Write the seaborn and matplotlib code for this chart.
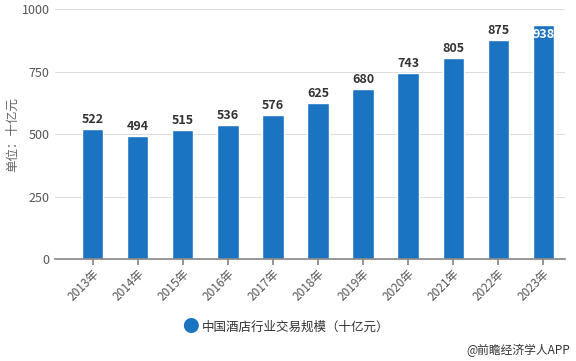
import matplotlib
matplotlib.use("Agg")
import matplotlib.pyplot as plt
import seaborn as sns
import pandas as pd

years = ["2013年", "2014年", "2015年", "2016年", "2017年", "2018年", "2019年", "2020年", "2021年", "2022年", "2023年"]
values = [522, 494, 515, 536, 576, 625, 680, 743, 805, 875, 938]
series_name = "中国酒店行业交易规模（十亿元）"
y_ticks = [0, 250, 500, 750, 1000]

sns.set_theme(style="white")
plt.rcParams['font.family'] = ['Noto Sans CJK SC', 'DejaVu Sans']

df = pd.DataFrame({"year": years, "value": values})
bar_color = "#1b74c1"

fig = plt.figure(figsize=(5.76, 3.61), dpi=100)
ax = fig.add_axes([0.0955, 0.2825, 0.885, 0.6925])
sns.barplot(data=df, x="year", y="value", color=bar_color, width=0.47, ax=ax, saturation=1)

ax.set_ylim(0, 1000)
ax.set_xlim(-0.84, 10.48)
ax.set_yticks(y_ticks)
ax.set_yticklabels([str(t) for t in y_ticks], fontsize=9, color="#555555")
ax.yaxis.grid(True, color="#dddddd", linewidth=0.8)
ax.set_axisbelow(True)
for s in ["top", "right", "left"]:
    ax.spines[s].set_visible(False)
ax.spines["bottom"].set_color("#888888")
ax.tick_params(axis="y", length=0, pad=4)
ax.tick_params(axis="x", length=4, color="#888888", pad=2, bottom=True)
ax.set_xticks(range(len(years)))
ax.set_xticklabels(years, rotation=45, ha="right", rotation_mode="anchor", fontsize=8.5, color="#555555")
ax.set_xlabel("")
ax.set_ylabel("单位：十亿元", fontsize=9, color="#666666", labelpad=2)

for i, v in enumerate(values):
    if v > 920:
        ax.text(i, v - 14, str(v), ha="center", va="top", fontsize=9, fontweight="bold", color="white")
    else:
        ax.text(i, v + 12, str(v), ha="center", va="bottom", fontsize=9, fontweight="bold", color="#333333")

fig.text(0.33, 0.093, "●", fontsize=12, color=bar_color, ha="center", va="center")
fig.text(0.35, 0.093, series_name, fontsize=9, color="#333333", ha="left", va="center")
fig.text(0.99, 0.03, "@前瞻经济学人APP", fontsize=8.5, color="#333333", ha="right", va="center")

fig.savefig("out.png", dpi=100)
